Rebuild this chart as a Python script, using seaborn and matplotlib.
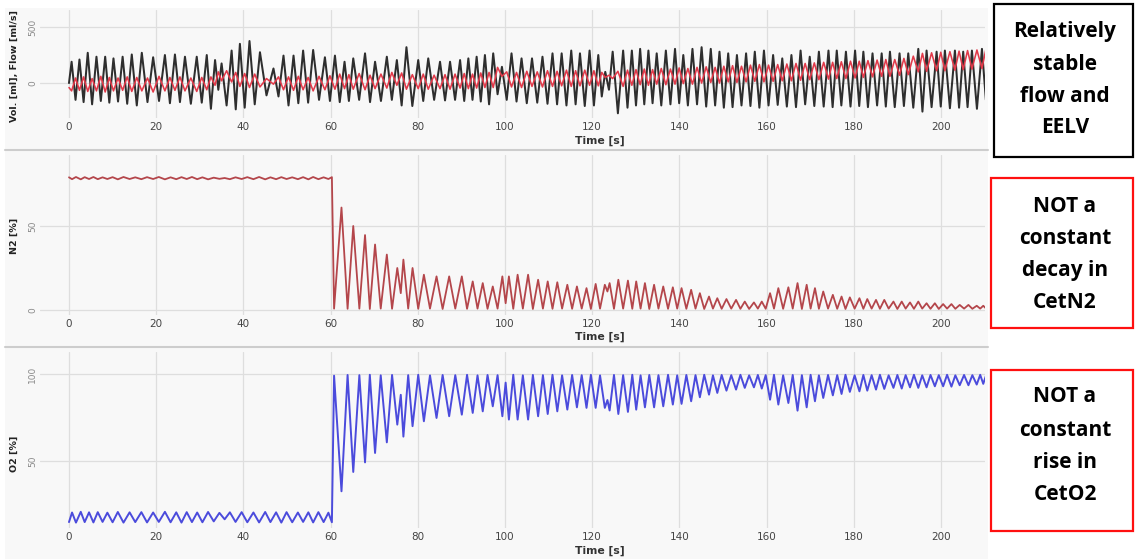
import matplotlib
matplotlib.use("Agg")
import matplotlib.pyplot as plt
import pandas as pd
import seaborn as sns
from matplotlib.patches import Rectangle
from matplotlib.lines import Line2D

# ------------------------------------------------------------------ data
# Top panel: breath-by-breath extrema of flow (black) and volume (red)
flow_peak_t = [0.6, 2.4, 4.3, 6.3, 8.3, 10.2, 12.3, 14.4, 16.7, 19.3,
               22.0, 24.3, 26.6, 29.3, 31.6, 33.5, 35.0, 37.3, 39.2, 41.4,
               43.8, 46.9, 49.2, 51.5, 53.7, 56.0, 58.7, 61.0, 63.2, 65.2,
               67.9, 70.2, 72.9, 75.2, 77.4, 80.1, 82.4, 85.1, 87.4, 89.7,
               91.6, 93.5, 95.4, 97.3, 99.3, 101.5, 103.8, 106.2, 108.6, 110.9,
               113.0, 115.2, 117.2, 119.4, 121.4, 123.0, 124.7, 127.1, 129.1, 131.0,
               132.9, 134.8, 136.9, 139.0, 140.9, 143.0, 145.1, 147.2, 149.2, 151.2,
               153.2, 155.3, 157.3, 159.4, 161.5, 163.6, 165.7, 167.8, 169.9, 172.0,
               174.2, 176.1, 178.2, 180.3, 182.2, 184.3, 186.4, 188.3, 190.5, 192.5,
               194.8, 196.7, 199.0, 200.9, 203.2, 205.1, 207.1, 209.4]
flow_peak_v = [190, 210, 270, 235, 235, 220, 235, 255, 270, 230,
               250, 255, 235, 235, 250, 205, 175, 290, 350, 375,
               275, 130, 245, 245, 290, 295, 230, 245, 190, 220,
               265, 190, 235, 205, 320, 205, 220, 190, 190, 205,
               220, 235, 250, 265, 145, 265, 220, 220, 235, 265,
               265, 290, 265, 290, 250, 100, 280, 290, 290, 305,
               290, 265, 290, 305, 250, 305, 320, 305, 280, 265,
               250, 265, 280, 290, 250, 220, 250, 290, 235, 280,
               290, 290, 280, 290, 280, 265, 265, 280, 265, 265,
               305, 290, 280, 290, 290, 280, 290, 305]
flow_trough_t = [0.0, 1.5, 3.35, 5.3, 7.3, 9.25, 11.25, 13.35, 15.55, 18.0,
                 20.65, 23.15, 25.45, 27.95, 30.45, 32.55, 34.25, 36.15, 38.25, 40.3,
                 42.6, 45.3, 48.05, 50.35, 52.6, 54.85, 57.35, 59.85, 62.1, 64.2,
                 66.55, 69.05, 71.55, 74.05, 76.3, 78.75, 81.25, 83.75, 86.25, 88.55,
                 90.65, 92.55, 94.45, 96.35, 98.3, 100.4, 102.65, 105.0, 107.4, 109.75,
                 111.95, 114.1, 116.2, 118.3, 120.4, 122.2, 123.85, 125.9, 128.1, 130.05,
                 131.95, 133.85, 135.85, 137.95, 139.95, 141.95, 144.05, 146.15, 148.2, 150.2,
                 152.2, 154.25, 156.3, 158.35, 160.45, 162.55, 164.65, 166.75, 168.85, 170.95,
                 173.1, 175.15, 177.15, 179.25, 181.25, 183.25, 185.35, 187.35, 189.4, 191.5,
                 193.65, 195.75, 197.85, 199.95, 202.05, 204.15, 206.1, 208.25, 210.3]
flow_trough_v = [0,
                 -150, -170, -190, -160, -175, -165, -185, -200, -170, -160,
                 -180, -170, -185, -175, -230, -60, -200, -235, -220, -190,
                 -110, -120, -200, -180, -175, -150, -160, -170, -160, -150,
                 -170, -160, -150, -200, -205, -160, -150, -155, -150, -160,
                 -150, -165, -190, -100, -150, -165, -180, -175, -185, -190,
                 -200, -190, -205, -200, -120, -60, -270, -220, -200, -190,
                 -180, -200, -190, -180, -200, -190, -210, -200, -220, -215,
                 -200, -205, -220, -200, -195, -210, -215, -190, -205, -210,
                 -215, -200, -210, -205, -215, -200, -210, -215, -205, -220,
                 -255, -215, -210, -225, -220, -215, -230, -150]
vol_at_peak = [-70, -65, -75, -70, -80, -70, -65, -75, -70, -80,
               -70, -65, -70, -75, -60, -20, 20, 10, -30, -40,
               -35, -10, -60, -65, -60, -70, -60, -55, -50, -55,
               -60, -50, -45, -20, -55, -50, -55, -50, -55, -45,
               -50, -45, -40, -40, 60, -35, -40, -30, -35, -30,
               -25, -30, -25, -20, -25, 50, 40, -30, -20, -15,
               -20, -10, -15, -10, -5, -10, 0, 5, 0, 10,
               5, 10, 15, 10, 15, 20, 20, 25, 30, 30,
               35, 40, 40, 45, 50, 55, 60, 60, 70, 75,
               100, 105, 110, 110, 115, 120, 125, 130]
vol_at_trough = [-40,
                 45, 55, 40, 60, 50, 45, 55, 50, 45, 60,
                 50, 55, 45, 50, 55, 100, 110, 95, 85, 80,
                 40, 55, 55, 60, 50, 60, 65, 80, 75, 85,
                 70, 80, 95, 90, 75, 80, 70, 75, 80, 85,
                 80, 90, 95, 140, 100, 95, 105, 100, 110, 105,
                 115, 110, 115, 110, 95, 70, 105, 115, 120, 125,
                 120, 130, 125, 135, 130, 140, 145, 140, 150, 155,
                 150, 160, 165, 160, 165, 170, 175, 175, 180, 185,
                 185, 190, 195, 195, 200, 205, 210, 210, 220, 240,
                 265, 270, 275, 280, 285, 290, 295, 300]

# Gas panels, before the wash-in (alternating O2 trough / O2 peak)
pre_t = [0.0, 0.7, 1.6, 2.7, 3.6, 4.6, 5.6, 6.6, 7.7, 8.8,
         10.0, 11.2, 12.5, 13.9, 15.2, 16.6, 17.9, 19.3, 20.6, 22.0,
         23.3, 24.6, 25.8, 27.0, 28.2, 29.4, 30.6, 31.9, 33.2, 34.5,
         35.7, 36.9, 38.2, 39.6, 40.9, 42.3, 43.6, 45.0, 46.2, 47.5,
         48.7, 49.9, 51.2, 52.5, 53.7, 54.9, 56.0, 57.2, 58.4, 59.5,
         60.3]
pre_o2 = [14.9, 20.4, 14.6, 20.8, 14.9, 20.5, 14.7, 20.6, 15.0, 20.3,
          14.8, 20.7, 14.6, 20.5, 14.9, 20.6, 14.7, 20.4, 15.0, 20.8,
          14.8, 20.5, 14.6, 20.6, 14.9, 20.4, 14.8, 20.7, 15.3, 20.2,
          16.5, 20.5, 15.0, 20.6, 14.8, 20.4, 14.7, 20.7, 14.9, 20.5,
          14.6, 20.6, 14.8, 20.4, 15.0, 20.5, 14.7, 20.6, 14.9, 20.3,
          14.8]
pre_n2 = [79.0, 77.9, 79.2, 77.8, 79.1, 78.0, 79.2, 77.9, 79.0, 78.0,
          79.1, 77.8, 79.2, 78.0, 79.0, 77.9, 79.1, 78.0, 79.2, 77.8,
          79.0, 77.9, 79.1, 78.0, 79.2, 77.9, 79.0, 77.8, 78.8, 78.1,
          78.6, 77.9, 79.0, 78.0, 79.1, 77.9, 79.2, 77.8, 79.0, 77.9,
          79.1, 78.0, 79.0, 77.9, 79.1, 77.8, 79.2, 77.9, 79.0, 78.0,
          79.1]

# After 60 s: end-expiration events (N2 peak / O2 trough)
exp_t = [62.5, 65.2, 67.9, 70.2, 72.9, 75.3, 76.7, 78.8, 81.4, 84.3,
         87.2, 90.1, 92.6, 94.9, 97.2, 99.4, 100.9, 102.9, 105.3, 107.6,
         109.8, 112.0, 114.3, 116.5, 118.7, 120.8, 122.9, 124.0, 126.0, 128.2,
         130.1, 132.1, 134.2, 136.3, 138.5, 140.5, 142.7, 144.7, 146.8, 148.7,
         150.8, 153.0, 155.0, 157.1, 158.9, 160.8, 162.7, 165.0, 167.1, 169.2,
         171.1, 173.0, 175.2, 177.2, 179.1, 181.3, 183.1, 185.1, 187.0, 189.1,
         191.0, 192.9, 194.8, 196.7, 198.6, 200.5, 202.4, 204.3, 206.3, 208.2,
         209.7]
n2_exp = [61.0, 50.0, 44.6, 39.0, 33.0, 25.0, 30.0, 25.0, 21.0, 20.0,
          20.0, 20.0, 17.0, 16.0, 14.0, 20.0, 20.0, 21.0, 21.0, 18.0,
          17.0, 16.5, 15.0, 14.0, 13.0, 15.5, 15.0, 16.0, 18.0, 17.5,
          17.0, 16.0, 15.0, 14.0, 13.5, 13.0, 12.0, 10.0, 8.0, 7.0,
          6.5, 6.0, 5.0, 4.5, 5.0, 10.0, 13.0, 13.5, 16.0, 15.0,
          13.0, 11.0, 9.0, 8.0, 7.5, 7.0, 6.5, 6.0, 6.0, 5.0,
          5.0, 4.5, 5.0, 4.0, 4.0, 3.5, 3.5, 3.0, 3.0, 2.5,
          2.5]
o2_exp = [32.6, 43.7, 49.2, 54.6, 60.7, 70.9, 64.0, 70.0, 72.8, 74.7,
          75.7, 76.6, 77.6, 78.5, 81.4, 75.7, 73.8, 73.8, 73.8, 75.7,
          77.0, 78.5, 79.5, 80.8, 80.5, 80.5, 80.5, 79.0, 77.0, 78.2,
          79.5, 80.8, 80.8, 81.4, 82.4, 82.8, 84.3, 86.6, 88.1, 89.1,
          90.4, 91.0, 92.0, 92.3, 91.6, 85.2, 82.4, 83.3, 78.9, 80.8,
          84.3, 86.2, 87.7, 88.5, 89.7, 90.0, 90.4, 91.0, 91.4, 92.0,
          91.6, 92.3, 92.0, 92.3, 92.9, 92.9, 92.7, 93.5, 93.5, 93.9,
          94.3]

# After 60 s: end-inspiration events (N2 trough / O2 peak)
insp_t = [60.8, 63.9, 66.6, 69.0, 71.5, 74.1, 76.1, 77.8, 80.1, 82.8,
          85.7, 88.6, 91.3, 93.7, 96.0, 98.3, 100.15, 101.9, 104.1, 106.4,
          108.7, 110.9, 113.1, 115.4, 117.6, 119.7, 121.8, 123.5, 125.0, 127.1,
          129.2, 131.1, 133.1, 135.2, 137.4, 139.5, 141.6, 143.7, 145.7, 147.7,
          149.7, 151.9, 154.0, 156.0, 158.0, 159.8, 161.7, 163.8, 166.0, 168.1,
          170.1, 172.0, 174.1, 176.2, 178.1, 180.2, 182.2, 184.1, 186.0, 188.0,
          190.0, 191.9, 193.8, 195.7, 197.6, 199.5, 201.4, 203.3, 205.3, 207.2,
          209.0, 210.4]
n2_insp = [0.8, 0.7, 0.8, 0.6, 0.8, 0.7, 10.0, 0.8, 0.7, 0.8,
           0.6, 0.8, 0.7, 0.8, 0.7, 0.8, 4.0, 0.7, 0.8, 0.6,
           0.8, 0.7, 0.8, 0.7, 0.8, 0.6, 0.8, 11.0, 0.7, 0.8,
           0.7, 0.8, 0.6, 0.8, 0.7, 0.8, 0.7, 0.8, 0.6, 0.8,
           0.7, 0.8, 0.7, 0.6, 0.8, 0.7, 0.8, 0.7, 0.8, 0.6,
           0.8, 0.7, 0.8, 0.7, 0.6, 0.8, 0.7, 0.8, 0.7, 0.8,
           0.6, 0.8, 0.7, 0.8, 0.7, 0.6, 0.8, 0.7, 0.8, 0.7,
           0.8, 0.7]
o2_insp = [99.0, 99.4, 99.3, 99.5, 99.2, 99.4, 88.0, 99.3, 99.5, 99.2,
           99.4, 99.3, 99.5, 99.2, 99.4, 99.3, 95.0, 99.5, 99.2, 99.4,
           99.3, 99.5, 99.2, 99.4, 99.3, 99.5, 99.2, 85.0, 99.4, 99.3,
           99.5, 99.2, 99.4, 99.3, 99.5, 99.2, 99.4, 99.3, 99.5, 99.2,
           99.4, 99.3, 99.5, 99.2, 99.4, 99.3, 99.5, 99.2, 99.4, 99.3,
           99.5, 99.2, 99.4, 99.3, 99.5, 99.2, 99.4, 99.3, 99.5, 99.2,
           99.4, 99.3, 99.5, 99.2, 99.4, 99.3, 99.5, 99.2, 99.4, 99.3,
           99.5, 99.6]

x_ticks = [0, 20, 40, 60, 80, 100, 120, 140, 160, 180, 200]
panel_ylabels = ["Vol. [ml], Flow [ml/s]", "N2 [%]", "O2 [%]"]
panel_yticks = [[0, 500], [0, 50], [50, 100]]
panel_ylims = [(-312, 652), (-3.0, 92.3), (11.5, 112.6)]
xlabel = "Time [s]"
notes = [["Relatively", "stable", "flow and", "EELV"],
         ["NOT a", "constant", "decay in", "CetN2"],
         ["NOT a", "constant", "rise in", "CetO2"]]

# ------------------------------------------------------------------ frames
top = pd.concat([
    pd.DataFrame({"t": flow_peak_t, "flow": flow_peak_v, "vol": vol_at_peak}),
    pd.DataFrame({"t": flow_trough_t, "flow": flow_trough_v, "vol": vol_at_trough}),
]).sort_values("t").reset_index(drop=True)

gas = pd.concat([
    pd.DataFrame({"t": pre_t, "n2": pre_n2, "o2": pre_o2}),
    pd.DataFrame({"t": exp_t, "n2": n2_exp, "o2": o2_exp}),
    pd.DataFrame({"t": insp_t, "n2": n2_insp, "o2": o2_insp}),
]).sort_values("t").reset_index(drop=True)

# ------------------------------------------------------------------ figure
sns.set_style("white")
plt.rcParams["font.family"] = ["DejaVu Sans"]
plt.rcParams["lines.solid_joinstyle"] = "round"
plt.rcParams["lines.solid_capstyle"] = "round"

W, H = 1135, 559
fig = plt.figure(figsize=(W / 100, H / 100), dpi=100)
fig.patch.set_facecolor("white")


def frect(l, t, r, b):
    return [l / W, 1 - b / H, (r - l) / W, (b - t) / H]


# panel bands
bands = [(5, 8, 988, 150), (5, 151, 988, 346), (5, 347, 988, 559)]
for (l, t, r, b) in bands:
    fig.add_artist(Rectangle((l / W, 1 - b / H), (r - l) / W, (b - t) / H,
                             transform=fig.transFigure, facecolor="#f8f8f8",
                             edgecolor="none", zorder=-5))
for ysep in (150.5, 346.5):
    fig.add_artist(Line2D([5 / W, 988 / W], [1 - ysep / H, 1 - ysep / H],
                          transform=fig.transFigure, color="#cdcdcd", lw=1.5, zorder=-4))

axes_px = [(40, 10, 985, 118), (40, 155, 985, 315), (40, 352, 985, 528)]
axes = [fig.add_axes(frect(*p)) for p in axes_px]

sns.lineplot(data=top, x="t", y="flow", ax=axes[0], color="#2e2e2e", lw=1.45,
             estimator=None, sort=False, legend=False)
sns.lineplot(data=top, x="t", y="vol", ax=axes[0], color="#e23a4a", lw=1.15,
             estimator=None, sort=False, legend=False)
sns.lineplot(data=gas, x="t", y="n2", ax=axes[1], color="#b4464b", lw=1.3,
             estimator=None, sort=False, legend=False)
sns.lineplot(data=gas, x="t", y="o2", ax=axes[2], color="#4b4bdc", lw=1.4,
             estimator=None, sort=False, legend=False)

label_y = [66, 236, 454]
time_y = [141, 337, 551]
for i, ax in enumerate(axes):
    ax.patch.set_visible(False)
    for s in ax.spines.values():
        s.set_visible(False)
    ax.set_xlim(-6.65, 210.1)
    ax.set_ylim(*panel_ylims[i])
    ax.set_xticks(x_ticks)
    ax.set_yticks(panel_yticks[i])
    ax.grid(True, color="#dedede", lw=0.9)
    ax.set_axisbelow(True)
    ax.set_xlabel("")
    ax.set_ylabel("")
    ax.tick_params(axis="x", labelsize=7.5, labelcolor="#444444", length=0, pad=3)
    ax.tick_params(axis="y", labelsize=6.5, labelcolor="#8a8a8a", length=0, pad=2,
                   labelrotation=90)
    for lab in ax.get_yticklabels():
        lab.set_va("center")
    fig.text(14 / W, 1 - label_y[i] / H, panel_ylabels[i], rotation=90,
             ha="center", va="center", fontsize=6.8, fontweight="bold", color="#222222")
    fig.text(600 / W, 1 - time_y[i] / H, xlabel, ha="center", va="center",
             fontsize=7.8, fontweight="bold", color="#333333")

# annotation boxes on the right
boxes = [((994, 4, 1133, 157), "black", [31, 64, 96, 128]),
         ((991, 178, 1133, 328), "#ff1010", [206, 238, 270, 302]),
         ((991, 370, 1133, 531), "#ff1010", [397, 430, 463, 495])]
for (l, t, r, b), col, ys in boxes:
    fig.add_artist(Rectangle((l / W, 1 - b / H), (r - l) / W, (b - t) / H,
                             transform=fig.transFigure, facecolor="white",
                             edgecolor=col, lw=1.6, zorder=3))
for k, ((l, t, r, b), col, ys) in enumerate(boxes):
    for line, y in zip(notes[k], ys):
        fig.text(1065 / W, 1 - y / H, line, ha="center", va="center",
                 fontsize=15, fontweight="bold", family=["Open Sans", "DejaVu Sans"],
                 color="black", zorder=4)

fig.savefig("out.png", dpi=100)
